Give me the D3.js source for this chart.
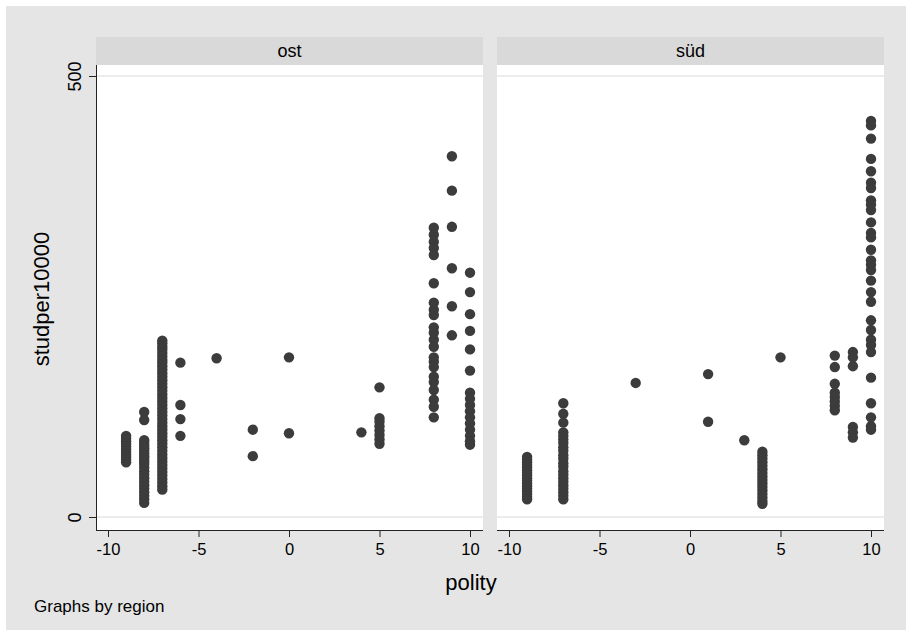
<!DOCTYPE html>
<html>
<head>
<meta charset="utf-8">
<script src="https://cdn.jsdelivr.net/npm/d3@7"></script>
<style>
  body { margin:0; background:#fff; }
  text { font-family: "Liberation Sans", Arial, sans-serif; fill:#000; }
</style>
</head>
<body>
<div id="chart"></div>
<script>
// regions (facets)
var regions = ["ost", "süd"];
var xTicks = [-10, -5, 0, 5, 10];
var yTicks = [0, 500];

// ost : one polity value, and the studper10000 values found at it
var ostPolity = [-9, -8, -7, -6, -4, -2, 0, 4, 5, 8, 9, 10];
var ostStud = [
  [92,89,86,83,80,77,74,71,68,65,62],
  [119,110,87,84,81,78,75,72,69,66,63,60,56,52,48,44,40,36,32,28,24,20,16],
  [200,197,193,190,186,182,178,175,171,167,163,159,155,151,147,143,139,135,131,127,123,119,115,111,107,103,99,95,91,87,83,79,75,71,67,63,59,55,51,47,43,39,35,31],
  [175,127,111,92],
  [180],
  [99,69],
  [181,95],
  [96],
  [147,112,108,103,98,93,88,83],
  [328,320,312,305,297,265,243,235,229,215,209,201,193,181,176,170,159,153,144,133,125,113],
  [409,370,329,282,239,206],
  [277,255,230,211,190,166,141,134,127,120,113,106,99,92,86,82]
];

// süd
var sudPolity = [-9, -7, -3, 1, 3, 4, 5, 8, 9, 10];
var sudStud = [
  [68,65,62,59,56,53,50,47,44,41,38,35,32,29,26,23,20],
  [129,117,107,96,92,88,84,79,75,70,66,61,57,52,48,44,40,36,32,28,24,20],
  [152],
  [162,108],
  [87],
  [74,70,66,62,58,54,50,46,42,38,34,30,26,22,18,15],
  [181],
  [183,170,151,141,136,131,126,121],
  [187,181,171,102,96,90],
  [449,444,429,406,392,379,373,359,354,348,334,322,317,303,291,286,280,268,255,244,223,212,201,195,187,158,129,113,103,99]
];

var width = 912, height = 636;
var stripTop = 37, stripH = 28, plotBottom = 530;
var panelLeft = [96, 497], panelW = 387;
var markColor = "#3c3c3c";
var fontF = "Liberation Sans, Arial, sans-serif";

var svg = d3.select("#chart").append("svg")
  .attr("width", width).attr("height", height);

// fond gris du graphe
svg.append("rect").attr("x", 6).attr("y", 6).attr("width", 900).attr("height", 624)
  .attr("fill", "#e5e5e5");

var y = d3.scaleLinear().domain([0, 500]).range([517, 76]);

var data = [
  { polity: ostPolity, stud: ostStud },
  { polity: sudPolity, stud: sudStud }
];

regions.forEach(function(reg, i) {
  var x0 = panelLeft[i];
  var x = d3.scaleLinear().domain([-10, 10]).range([x0 + 12, x0 + 374]);
  var g = svg.append("g");

  // zone du graphe
  g.append("rect").attr("x", x0).attr("y", stripTop + stripH)
    .attr("width", panelW).attr("height", plotBottom - stripTop - stripH)
    .attr("fill", "#fff");

  // bandeau du titre
  g.append("rect").attr("x", x0).attr("y", stripTop)
    .attr("width", panelW).attr("height", stripH).attr("fill", "#d9d9d9");
  g.append("text").attr("x", x0 + panelW / 2).attr("y", stripTop + 20)
    .attr("text-anchor", "middle").style("font-size", "18px").text(reg);

  // lignes de grille
  yTicks.forEach(function(t) {
    g.append("line").attr("x1", x0).attr("x2", x0 + panelW)
      .attr("y1", y(t)).attr("y2", y(t))
      .attr("stroke", "#e6e6e6").attr("stroke-width", 1.5);
  });

  // points : on aplatit les colonnes
  var pts = [];
  data[i].polity.forEach(function(p, k) {
    data[i].stud[k].forEach(function(s) { pts.push({ p: p, s: s }); });
  });
  g.append("g").selectAll("circle").data(pts).enter().append("circle")
    .attr("cx", function(d) { return x(d.p); })
    .attr("cy", function(d) { return y(d.s); })
    .attr("r", 5.2)
    .attr("fill", markColor);

  // axe x
  var xAxis = d3.axisBottom(x).tickValues(xTicks).tickSize(7).tickPadding(6).tickFormat(d3.format("d"));
  var ax = g.append("g").attr("transform", "translate(0," + plotBottom + ")").call(xAxis);
  ax.select(".domain").attr("d", "M" + x0 + ",0.5H" + (x0 + panelW)).attr("stroke", "#222");
  ax.selectAll(".tick line").attr("stroke", "#222");
  ax.selectAll(".tick text").style("font-size", "16.5px").style("font-family", fontF)
    .attr("fill", "#000").text(function(d) { return d < 0 ? "-" + Math.abs(d) : d; });

  // axe y seulement pour le premier panneau
  if (i == 0) {
    var yAxis = d3.axisLeft(y).tickValues(yTicks).tickSize(7).tickPadding(5);
    var ay = g.append("g").attr("transform", "translate(" + x0 + ",0)").call(yAxis);
    ay.select(".domain").attr("d", "M0.5," + (stripTop + stripH) + "V" + plotBottom).attr("stroke", "#222");
    ay.selectAll(".tick line").attr("stroke", "#222");
    ay.selectAll(".tick text")
      .style("font-size", "18px").style("font-family", fontF)
      .attr("fill", "#000")
      .attr("text-anchor", "middle")
      .attr("x", 0).attr("dy", 0)
      .attr("transform", "translate(-15,0) rotate(-90)");
  }
});

// titres
svg.append("text").attr("x", 471).attr("y", 590).attr("text-anchor", "middle")
  .style("font-size", "22px").text("polity");
svg.append("text").attr("transform", "translate(49,299) rotate(-90)").attr("text-anchor", "middle")
  .style("font-size", "22px").text("studper10000");
svg.append("text").attr("x", 34).attr("y", 612).style("font-size", "17px").text("Graphs by region");
</script>
</body>
</html>
